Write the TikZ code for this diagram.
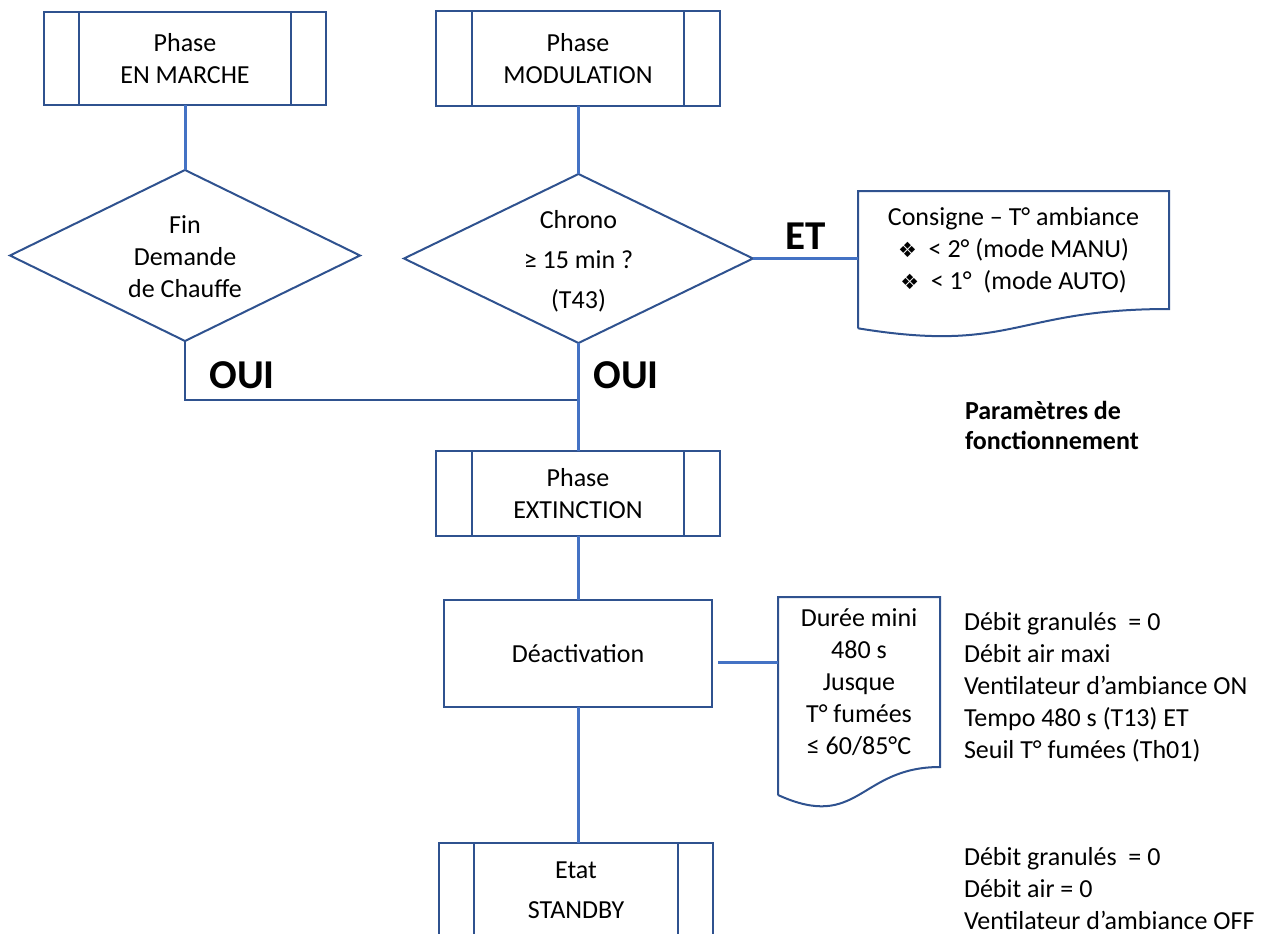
\documentclass[tikz,border=0pt]{standalone}
\usepackage{fontspec}
\setmainfont{Carlito}
\newfontfamily\dingfont{DejaVu Sans}
\usetikzlibrary{shapes.geometric,calc}
\definecolor{cOut}{HTML}{2F528F}
\definecolor{cLine}{HTML}{4472C4}
\tikzset{
  every node/.style={font=\fontsize{26}{32}\selectfont, inner sep=0pt, outer sep=0pt},
  procbox/.style={draw=cOut, line width=2pt, rectangle, align=center,
    path picture={\draw[cOut, line width=2pt]
      ([xshift=#1]path picture bounding box.north west) -- ([xshift=#1]path picture bounding box.south west)
      ([xshift=-#1]path picture bounding box.north east) -- ([xshift=-#1]path picture bounding box.south east);}},
  procbox/.default=35pt,
  plainbox/.style={draw=cOut, line width=2pt, rectangle, align=center},
  dia/.style={draw=cOut, line width=2pt, diamond, shape aspect=2},
  docline/.style={draw=cOut, line width=2pt},
  link/.style={draw=cLine, line width=3pt},
  thinlink/.style={draw=cOut, line width=2pt},
  big/.style={font=\bfseries\fontsize{41}{41}\selectfont},
  para/.style={align=left, anchor=west}
}
\newcommand{\bulletmark}{{\dingfont\fontsize{21}{21}\selectfont ❖}}
\begin{document}
\begin{tikzpicture}[x=1pt,y=-1pt]
\useasboundingbox (0,0) rectangle (1280,934);
\clip (0,0) rectangle (1280,934);

% process boxes
\node[procbox=35pt, minimum width=282pt, minimum height=93pt] (b1) at (185,58.5) {Phase\\EN MARCHE};
\node[procbox=36pt, minimum width=284pt, minimum height=95pt] (b2) at (578,58.5) {Phase\\MODULATION};
\node[procbox=36pt, minimum width=284pt, minimum height=85pt] (b3) at (578,493.5) {Phase\\EXTINCTION};
\node[plainbox, minimum width=268pt, minimum height=107pt] (b4) at (578,653.5) {Déactivation};
\node[procbox=35pt, minimum width=274pt, minimum height=94pt] (b5) at (576,890) {Etat\\[8pt]STANDBY};

% decisions
\node[dia, minimum width=350pt, minimum height=171pt] (d1) at (185,255.5) {};
\node[align=center] (d1t) at (185,257) {Fin\\Demande\\de Chauffe};
\node[dia, minimum width=349pt, minimum height=169pt] (d2) at (578.5,258.5) {};
\node[align=center] (d2t) at (578.5,261) {Chrono\\[8pt]≥ 15 min ?\\[8pt](T43)};

% documents
\node[minimum width=311pt, minimum height=118pt, align=center] (c1) at (1013.5,250)
  {Consigne – T° ambiance\\
   \bulletmark\ \ < 2° (mode MANU)\\
   \bulletmark\ \ < 1°\ \ (mode AUTO)};
\draw[docline] ($(c1.north west)+(0,137.3)$) -- (c1.north west) -- (c1.north east) -- (c1.south east)
  .. controls (c1.south) and ($(c1.north)+(0,162.8)$) .. ($(c1.north west)+(0,137.3)$);

\node[minimum width=162pt, minimum height=170pt, align=center] (c2) at (859,682)
  {Durée mini\\480 s\\Jusque\\T° fumées\\≤ 60/85°C};
\draw[docline] ($(c2.north west)+(0,198)$) -- (c2.north west) -- (c2.north east) -- (c2.south east)
  .. controls (c2.south) and ($(c2.north)+(0,234.8)$) .. ($(c2.north west)+(0,198)$);

% connectors
\coordinate (j) at (578,400);
\draw[link] (b1.south) -- (b1.south |- d1.north);
\draw[link] (b2.south) -- (b2.south |- d2.north);
\draw[thinlink] (d1.south) |- (j);
\draw[link] (b2.south |- d2.south) -- (b3.north);
\draw[link] (d2.east) -- (d2.east -| c1.west);
\draw[link] (b3.south) -- (b4.north);
\draw[link, shorten <=6pt] ([yshift=-8.5pt]b4.east) -- ([yshift=-8.5pt]b4.east -| c2.west);
\draw[link] (b4.south) -- (b4.south |- b5.north);

% labels
\node[big] (oui1) at (242,375) {OUI};
\node[big] (oui2) at (626,375) {OUI};
\node[big] (et) at (806,236) {ET};

\node[para, font=\bfseries\fontsize{26}{30}\selectfont] (pf) at (965,425) {Paramètres de\\fonctionnement};
\node[para] (p1) at (964,687.5) {Débit granulés\ \ = 0\\Débit air maxi\\Ventilateur d’ambiance ON\\Tempo 480 s (T13) ET\\Seuil T° fumées (Th01)};
\node[para] (p2) at (964,889) {Débit granulés\ \ = 0\\Débit air = 0\\Ventilateur d’ambiance OFF};
\end{tikzpicture}
\end{document}
